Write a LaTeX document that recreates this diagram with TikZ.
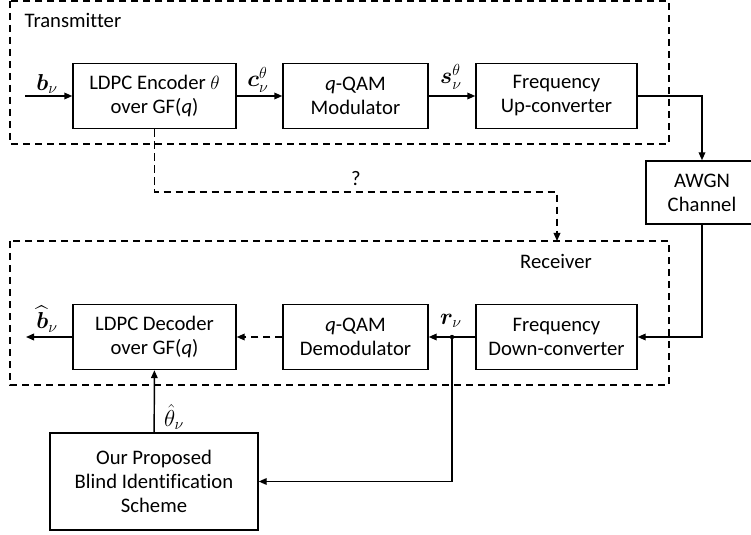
\documentclass[tikz,border=0pt]{standalone}
\usepackage{amsmath,bm}
\usepackage{fontspec}
\setmainfont{Carlito}[Ligatures=NoCommon]
\usetikzlibrary{arrows.meta}

\tikzset{every picture/.style={line width=1.1pt}}
\tikzset{
  blk/.style={draw, align=center, inner sep=0pt, font=\fontsize{15.5}{18}\selectfont},
  lbl/.style={inner sep=0.75pt, font=\fontsize{15.5}{18}\selectfont},
  mlbl/.style={inner sep=0.5pt, font=\fontsize{18}{20}\selectfont},
  dsh/.style={dash pattern={on 5.5pt off 3.5pt}},
  arr/.style={-{Triangle[length=6pt,width=5pt]}},
}

\begin{document}
\begin{tikzpicture}[x=0.75pt,y=0.75pt,yscale=-1,xscale=1]
        \clip (0,0) rectangle (751,535);
        
        %Frames: transmitter and receiver
        \draw [dsh] (10,1) rectangle (669,144) ;
        \draw [dsh] (10,241) rectangle (669,385) ;
        
        %Blocks of the transmitter
        \draw (154.5,96) node [blk, minimum width=122.25pt, minimum height=48.75pt] (enc) {LDPC Encoder $\theta$\\over GF(\textit{q})};
        \draw (355.5,96) node [blk, minimum width=108.75pt, minimum height=48.75pt] (mod) {\textit{q}-QAM\\Modulator};
        \draw (556.5,96) node [blk, minimum width=120.75pt, minimum height=48.75pt] (upc) {Frequency\\Up-converter};
        %Channel
        \draw (702,192.5) node [blk, minimum width=84pt, minimum height=47.25pt] (awgn) {AWGN\\Channel};
        %Blocks of the receiver
        \draw (556.5,337) node [blk, minimum width=120.75pt, minimum height=48.75pt] (dnc) {Frequency\\Down-converter};
        \draw (355.5,337) node [blk, minimum width=108.75pt, minimum height=48.75pt] (demod) {\textit{q}-QAM\\Demodulator};
        \draw (154.5,337) node [blk, minimum width=122.25pt, minimum height=48.75pt] (dec) {LDPC Decoder\\over GF(\textit{q})};
        %Identification block
        \draw (154,481.5) node [blk, minimum width=156pt, minimum height=72.75pt] (blind) {Our Proposed\\Blind Identification\\Scheme};
        
        %Free ends and bends
        \coordinate (bin) at (25,96) ;
        \coordinate (bout) at (26,337) ;
        \coordinate (tap) at (452,337) ;
        \coordinate (qbend) at (557,192) ;
        \coordinate (rxin) at (557,241) ;
        
        %Straight Lines
        \draw [arr] (bin) -- (enc) ;
        \draw [arr] (enc) -- (mod) ;
        \draw [arr] (mod) -- (upc) ;
        \draw [arr] (upc.east) -| (awgn.north) ;
        \draw [arr] (awgn.south) |- (dnc.east) ;
        \draw (dnc.west) -- (tap) ;
        \draw [arr] (tap) -- (demod.east) ;
        \draw [arr, dsh] (demod) -- (dec) ;
        \draw [arr] (dec.west) -- (bout) ;
        \draw [arr] (tap) |- (blind.east) ;
        \draw [arr] (blind) -- (dec) ;
        \draw [arr, dsh, line width=0.9pt] (enc.south) |- (qbend) -- (rxin) ;
        \fill (tap) circle (2.2) ;
        
        % Text Node
        \draw (23,20) node [lbl, anchor=west] (txname) {Transmitter};
        % Text Node
        \draw (556,261) node [lbl] (rxname) {Receiver};
        % Text Node
        \draw (47,84) node [mlbl] (bv) {$\bm{b}_{\nu}$};
        % Text Node
        \draw (258,80) node [mlbl] (cv) {$\bm{c}_{\nu}^{\theta}$};
        % Text Node
        \draw (451,77) node [mlbl] (sv) {$\bm{s}_{\nu}^{\theta}$};
        % Text Node
        \draw (451,321) node [mlbl] (rv) {$\bm{r}_{\nu}$};
        % Text Node
        \draw (47,319) node [mlbl] (bhat) {$\widehat{\bm{b}}_{\nu}$};
        % Text Node
        \draw (174,417) node [mlbl] (thhat) {$\hat{\theta}_{\nu}$};
        % Text Node
        \draw (356,179) node [lbl] (qm) {?};
        
\end{tikzpicture}
\end{document}
